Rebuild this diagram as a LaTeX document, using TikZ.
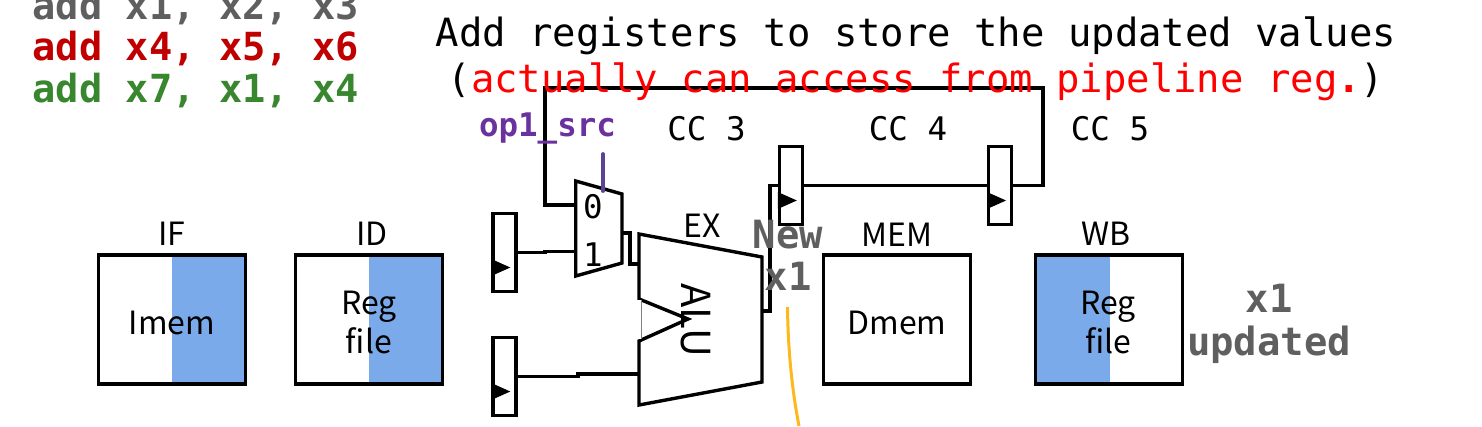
\documentclass[tikz,border=0pt]{standalone}
\usepackage{fontspec}
\setmainfont{Noto Sans CJK JP}
\setmonofont{DejaVu Sans Mono}
\definecolor{gtxt}{HTML}{5F5F5F}
\definecolor{rtxt}{HTML}{C00000}
\definecolor{gntxt}{HTML}{38862E}
\definecolor{ptxt}{HTML}{6A329F}
\definecolor{pline}{HTML}{5B4396}
\definecolor{blu}{HTML}{7BAAEA}
\definecolor{org}{HTML}{FFB81C}
\newcommand{\fs}[1]{\fontsize{#1}{#1}\selectfont}
\tikzset{
  wire/.style={draw=black,line width=3.4pt,line join=miter},
  stagebox/.style={draw=black,line width=3.4pt,minimum width=147pt,minimum height=129pt,inner sep=0pt},
  regbox/.style={draw=black,line width=3.4pt,fill=white,minimum width=23pt,minimum height=78pt,inner sep=0pt},
  lab/.style={inner sep=0pt,anchor=base,font=\fs{32}},
  code/.style={inner sep=0pt,anchor=base west,font=\fs{38.7}\ttfamily\bfseries},
  note/.style={inner sep=0pt,anchor=base,font=\fs{38.9}\ttfamily},
  cc/.style={inner sep=0pt,anchor=base,font=\fs{32.5}\ttfamily},
  hot/.style={inner sep=0pt,anchor=base,font=\fs{38.9}\ttfamily\bfseries,text=gtxt},
  clk/.style={fill=black,draw=none}
}
\begin{document}
\begin{tikzpicture}[x=1pt,y=-1pt]
\useasboundingbox (0,0) rectangle (1482,426);
% stage boxes
\fill[blu] (172,255) rectangle (246,384);
\fill[blu] (369,255) rectangle (443,384);
\fill[blu] (1035,255) rectangle (1110,384);
\node[stagebox] (ifb) at (172,319.5) {};
\node[stagebox] (idb) at (369,319.5) {};
\node[stagebox] (memb) at (897,319.5) {};
\node[stagebox] (wbb) at (1109,319.5) {};
% registers
\node[regbox] (r1) at (504.5,252.5) {};
\node[regbox] (r2) at (504.5,376.5) {};
\node[regbox] (r3) at (791,185.5) {};
\node[regbox] (r4) at (1000.2,185.5) {};
\foreach \r in {r1,r2,r3,r4}{
  \fill[clk] ([shift={(0pt,-6.5pt)}]\r.west) -- ++(0,17) -- ++(19,-8.5) -- cycle;
}
% mux
\coordinate (m1) at (575.7,181);
\coordinate (m2) at (622,194);
\coordinate (m3) at (622,263);
\coordinate (m4) at (575.7,276);
\draw[wire] (m1) -- (m2) -- (m3) -- (m4) -- cycle;
\coordinate (mo) at (622,233);
\coordinate (mi0) at (575.7,205);
\coordinate (mi1) at (575.7,251.5);
% ALU
\coordinate (a1) at (639,234);
\coordinate (a2) at (762,257);
\coordinate (a3) at (762,382);
\coordinate (a4) at (639,405);
\coordinate (a5) at (639,341);
\coordinate (a6) at (688,319);
\coordinate (a7) at (639,299);
\draw[wire] (a7) -- (a1) -- (a2) -- (a3) -- (a4) -- (a5) -- (a6) -- cycle;
\fill[white] (637,300) rectangle (641,339);
\draw[gray,line width=1pt] (641,300) -- (641,339);
\coordinate (ai1) at (639,264);
\coordinate (ai2) at (639,374);
\coordinate (ao) at (762,311);
% connectors
\draw[wire] (r1.east) -- (545,252.5) -- (545,251.5) -- (mi1);
\draw[wire] (r2.east) -- (578,376.5) -- (578,374) -- (ai2);
\draw[wire] (mo) -- (630,233) -- (630,264) -- (ai1);
\draw[wire] (ao) -- (770,311) -- (770,185.5) -- (r3.west);
\draw[wire] (r3.east) -- (r4.west);
\draw[wire] (r4.east) -- (1043,185.5) -- (1043,88) -- (545,88) -- (545,205) -- (mi0);
\coordinate (sel) at (603,154);
\coordinate (selend) at (603,191);
\draw[pline,line width=3.8pt,line cap=round] (sel) -- (selend);
\coordinate (os) at (787.5,307);
\coordinate (oe) at (799,426);
\draw[org,line width=3pt] (os) .. controls (788,350) and (792,390) .. (oe);
% text
\node[code,text=gtxt] (c1) at (32.5,19) {add x1, x2, x3};
\node[code,text=rtxt] (c2) at (32.5,60.5) {add x4, x5, x6};
\node[code,text=gntxt] (c3) at (32.5,102) {add x7, x1, x4};
\node[note] (n1) at (916,46.5) {Add registers to store the updated values};
\node[note] (n2) at (916,92.5) {(\textcolor{red}{actually can access from pipeline reg\textbf{.}})};
\node[cc] (cc3) at (706.5,140) {CC 3};
\node[cc] (cc4) at (908,140) {CC 4};
\node[cc] (cc5) at (1110,140) {CC 5};
\node[inner sep=0pt,anchor=base,font=\fs{32.5}\ttfamily\bfseries,text=ptxt] (op) at (547.5,136.5) {op1\_src};
\node[cc] (z0) at (593,218) {0};
\node[cc] (z1) at (593,266) {1};
\node[lab] (lif) at (172,245) {IF};
\node[lab] (lid) at (372,245) {ID};
\node[lab] (lex) at (702,237) {EX};
\node[lab] (lmem) at (897,246) {MEM};
\node[lab] (lwb) at (1106,245) {WB};
\node[lab] (t1) at (172,334) {Imem};
\node[lab] (t2) at (369,314) {Reg};
\node[lab] (t3) at (369,353) {file};
\node[lab] (t4) at (897,334) {Dmem};
\node[lab] (t5) at (1108,314) {Reg};
\node[lab] (t6) at (1108,353) {file};
\node[inner sep=0pt,rotate=-90,font=\fs{40}] (alu) at (696,320) {ALU};
\node[hot] (h1) at (788,248) {New};
\node[hot] (h2) at (788,290) {x1};
\node[hot] (h3) at (1269,312) {x1};
\node[hot] (h4) at (1269,355) {updated};
\end{tikzpicture}
\end{document}
